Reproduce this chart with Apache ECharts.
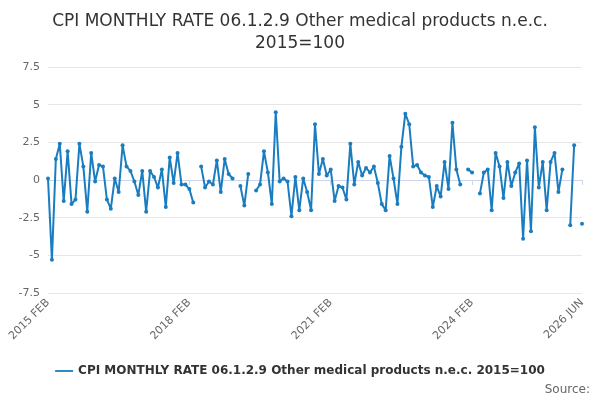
<!DOCTYPE html>
<html>
<head>
<meta charset="utf-8">
<script src="https://cdn.jsdelivr.net/npm/echarts@6/dist/echarts.min.js"></script>
<style>html,body{margin:0;padding:0;background:#fff}#main{width:600px;height:400px}</style>
</head>
<body>
<div id="main"></div>
<script>
var seriesName = 'CPI MONTHLY RATE 06.1.2.9 Other medical products n.e.c. 2015=100';
var monthNames = ['JAN', 'FEB', 'MAR', 'APR', 'MAY', 'JUN', 'JUL', 'AUG', 'SEP', 'OCT', 'NOV', 'DEC'];
var shownLabels = ['2015 FEB', '2018 FEB', '2021 FEB', '2024 FEB', '2026 JUN'];
var yTicks = [-7.5, -5, -2.5, 0, 2.5, 5, 7.5];
var values = [
    0.1, -5.3, 1.4, 2.4, -1.4, 1.9, -1.6, -1.3, 2.4, 0.9,
    -2.1, 1.8, -0.1, 1.0, 0.9, -1.3, -1.9, 0.1, -0.8, 2.3,
    0.9, 0.6, -0.1, -1.0, 0.6, -2.1, 0.6, 0.2, -0.5, 0.7,
    -1.8, 1.5, -0.2, 1.8, -0.3, -0.3, -0.6, -1.5, null, 0.9,
    -0.5, -0.1, -0.3, 1.3, -0.8, 1.4, 0.4, 0.1, null, -0.4,
    -1.7, 0.4, null, -0.7, -0.3, 1.9, 0.5, -1.6, 4.5, -0.1,
    0.1, -0.1, -2.4, 0.2, -2.0, 0.1, -0.8, -2.0, 3.7, 0.4,
    1.4, 0.3, 0.7, -1.4, -0.4, -0.5, -1.3, 2.4, -0.3, 1.2,
    0.3, 0.8, 0.5, 0.9, -0.2, -1.6, -2.0, 1.6, 0.1, -1.6,
    2.2, 4.4, 3.7, 0.9, 1.0, 0.5, 0.3, 0.2, -1.8, -0.4,
    -1.1, 1.2, -0.6, 3.8, 0.7, -0.3, null, 0.7, 0.5, null,
    -0.9, 0.5, 0.7, -2.0, 1.8, 0.9, -1.2, 1.2, -0.4, 0.5,
    1.1, -3.9, 1.3, -3.4, 3.5, -0.5, 1.2, -2.0, 1.2, 1.8,
    -0.8, 0.7, null, -3.0, 2.3, null, -2.9
];

var categories = [];
for (var i = 0; i < values.length; i++) {
    var m = 1 + i;
    categories.push((2015 + Math.floor(m / 12)) + ' ' + monthNames[m % 12]);
}

var chart = echarts.init(document.getElementById('main'));
chart.setOption({
    animation: false,
    title: {
        text: 'CPI MONTHLY RATE 06.1.2.9 Other medical products n.e.c.\n2015=100',
        left: 'center',
        top: 6,
        textStyle: { fontFamily: 'DejaVu Sans', fontSize: 17, fontWeight: 'normal', color: '#333', lineHeight: 22 }
    },
    legend: {
        bottom: 18,
        left: 'center',
        icon: 'path://M0,4 L20,4 L20,6 L0,6 Z',
        itemWidth: 18,
        itemHeight: 4,
        textStyle: { fontFamily: 'DejaVu Sans', fontSize: 12, fontWeight: 'bold', color: '#333' }
    },
    graphic: [{
        type: 'text',
        right: 10,
        bottom: 4,
        style: { text: 'Source:', fontFamily: 'DejaVu Sans', fontSize: 12, fill: '#666' }
    }],
    grid: { left: 48, right: 18, top: 67, bottom: 107 },
    xAxis: {
        type: 'category',
        data: categories,
        boundaryGap: false,
        axisLine: { lineStyle: { color: '#ccd6eb' } },
        axisTick: {
            alignWithLabel: true,
            interval: function (idx, val) { return shownLabels.indexOf(val) >= 0; },
            lineStyle: { color: '#ccd6eb' }
        },
        axisLabel: {
            interval: function (idx, val) { return shownLabels.indexOf(val) >= 0; },
            rotate: 45,
            fontFamily: 'DejaVu Sans',
            fontSize: 11,
            color: '#666'
        }
    },
    yAxis: {
        type: 'value',
        min: yTicks[0],
        max: yTicks[yTicks.length - 1],
        interval: 2.5,
        axisLabel: { fontFamily: 'DejaVu Sans', fontSize: 11, color: '#666' },
        splitLine: { lineStyle: { color: '#e6e6e6' } }
    },
    series: [{
        type: 'line',
        name: seriesName,
        data: values,
        connectNulls: false,
        symbol: 'circle',
        symbolSize: 4,
        showAllSymbol: true,
        itemStyle: { color: '#1a7dc0' },
        lineStyle: { width: 2, color: '#1a7dc0' }
    }]
});
</script>
</body>
</html>
